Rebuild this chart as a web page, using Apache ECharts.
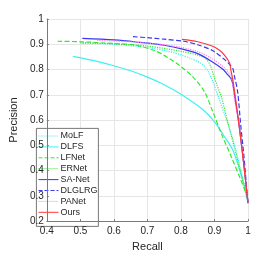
<!DOCTYPE html>
<html><head><meta charset="utf-8">
<script src="https://cdn.jsdelivr.net/npm/echarts@6/dist/echarts.min.js"></script>
<style>html,body{margin:0;padding:0;background:#fff}#c{width:274px;height:257px}</style>
</head><body><div id="c"></div>
<script>
const seriesNames = ['MoLF','DLFS','LFNet','ERNet','SA-Net','DLGLRG','PANet','Ours'];
const xTicks = [0.4,0.5,0.6,0.7,0.8,0.9,1];
const yTicks = [0.2,0.3,0.4,0.5,0.6,0.7,0.8,0.9,1];

const MoLF = [[0.5,0.905],[0.6,0.9],[0.7,0.887],[0.76,0.873],[0.8,0.858],[0.83,0.843],[0.86,0.825],[0.878,0.8],[0.893,0.76],[0.912,0.69],[0.94,0.585],[0.959,0.506],[0.975,0.42],[0.988,0.35],[1,0.272]];
const DLFS = [[0.478,0.852],[0.55,0.832],[0.6,0.815],[0.65,0.795],[0.7,0.77],[0.75,0.74],[0.8,0.702],[0.865,0.642],[0.902,0.59],[0.931,0.532],[0.955,0.48],[0.978,0.39],[0.997,0.3],[1,0.275]];
const LFNet = [[0.432,0.912],[0.5,0.91],[0.6,0.903],[0.666,0.896],[0.723,0.874],[0.76,0.848],[0.8,0.812],[0.836,0.77],[0.87,0.713],[0.893,0.64],[0.921,0.545],[0.95,0.455],[0.978,0.365],[0.997,0.3],[1,0.28]];
const ERNet = [[0.5,0.906],[0.6,0.902],[0.7,0.893],[0.8,0.872],[0.85,0.857],[0.875,0.842],[0.888,0.815],[0.898,0.775],[0.907,0.74],[0.921,0.69],[0.94,0.59],[0.959,0.494],[0.975,0.41],[0.988,0.34],[1,0.275]];
const SANet = [[0.506,0.923],[0.6,0.917],[0.666,0.909],[0.75,0.896],[0.808,0.88],[0.85,0.863],[0.893,0.831],[0.926,0.8],[0.94,0.779],[0.95,0.763],[0.955,0.74],[0.962,0.68],[0.973,0.584],[0.988,0.42],[1,0.272]];
const DLGLRG = [[0.657,0.93],[0.7,0.926],[0.75,0.92],[0.808,0.912],[0.85,0.898],[0.893,0.876],[0.93,0.84],[0.945,0.82],[0.955,0.803],[0.959,0.777],[0.969,0.713],[0.978,0.584],[0.988,0.455],[0.997,0.313],[1,0.27]];
const PANet = [[0.55,0.915],[0.65,0.91],[0.75,0.898],[0.8,0.888],[0.85,0.871],[0.893,0.843],[0.93,0.806],[0.945,0.782],[0.952,0.76],[0.96,0.68],[0.973,0.584],[0.988,0.42],[1,0.274]];
const Ours = [[0.803,0.919],[0.85,0.91],[0.893,0.893],[0.915,0.876],[0.931,0.855],[0.945,0.826],[0.95,0.79],[0.955,0.758],[0.973,0.584],[0.988,0.416],[1,0.27]];

const dataList = [MoLF,DLFS,LFNet,ERNet,SANet,DLGLRG,PANet,Ours];
const colors = ['#3ff0f0','#3ff0f0','#33e833','#33e833','#3838f0','#3838f0','#ff80ff','#ff3838'];
const types = ['dotted','solid','dashed','dotted','solid','dashed','dotted','solid'];

const chart = echarts.init(document.getElementById('c'), null, {renderer:'canvas'});
const font = 'Liberation Sans, Arial, Helvetica, sans-serif';
const fmt = ticks => v => { const t = ticks.find(a => Math.abs(a - v) < 1e-6); return t === undefined ? '' : String(t); };
const gridAxis = (min, max) => ({type:'value', min, max, interval:0.1, z:0,
  axisLine:{show:false}, axisTick:{show:false}, axisLabel:{show:false},
  splitLine:{show:true, lineStyle:{color:'#e6e6e6', width:1}}});
chart.setOption({
  animation:false,
  backgroundColor:'#fff',
  grid:{left:36,right:26,top:19,bottom:31,containLabel:false},
  xAxis:[
    {type:'value',min:0.4,max:1,interval:0.1,z:10,position:'bottom',
     name:'Recall',nameLocation:'middle',nameGap:17,
     nameTextStyle:{fontSize:11,color:'#262626',fontFamily:font},
     axisLine:{show:true,onZero:false,lineStyle:{color:'#7a7a7a',width:1}},
     axisTick:{show:true,inside:true,length:2,lineStyle:{color:'#7a7a7a'}},
     axisLabel:{fontSize:10,color:'#262626',fontFamily:font,margin:5,formatter:fmt(xTicks)},
     splitLine:{show:false}},
    Object.assign(gridAxis(0.4,1),{position:'top'})
  ],
  yAxis:[
    {type:'value',min:0.2,max:1,interval:0.1,z:10,position:'left',
     name:'Precision',nameLocation:'middle',nameGap:22,
     nameTextStyle:{fontSize:11,color:'#262626',fontFamily:font},
     axisLine:{show:true,onZero:false,lineStyle:{color:'#7a7a7a',width:1}},
     axisTick:{show:true,inside:true,length:2,lineStyle:{color:'#7a7a7a'}},
     axisLabel:{fontSize:10,color:'#262626',fontFamily:font,margin:3,formatter:fmt(yTicks)},
     splitLine:{show:false}},
    Object.assign(gridAxis(0.2,1),{position:'right'})
  ],
  graphic:[{type:'rect',left:36,top:128,z:5,
    shape:{width:62,height:98},
    style:{fill:'#fff',stroke:'#555',lineWidth:0.8}}],
  legend:{orient:'vertical',left:37,top:129.2,z:6,
    data:seriesNames,
    itemWidth:20,itemHeight:10,itemGap:1.9,
    padding:[2.3,4,2.3,1],
    backgroundColor:'rgba(0,0,0,0)',borderWidth:0,
    itemStyle:{color:'rgba(0,0,0,0)',borderColor:'rgba(0,0,0,0)',borderWidth:0,opacity:0},
    lineStyle:{width:1},
    textStyle:{fontSize:9,color:'#262626',fontFamily:font,padding:[0,0,0,-3]}},
  series:seriesNames.map((n,i)=>({
    name:n,type:'line',data:dataList[i],smooth:0.3,symbol:'none',
    xAxisIndex:0,yAxisIndex:0,z:2,
    color:colors[i],
    lineStyle:{color:colors[i],width:1.2,type:types[i]}
  }))
});
</script></body></html>
